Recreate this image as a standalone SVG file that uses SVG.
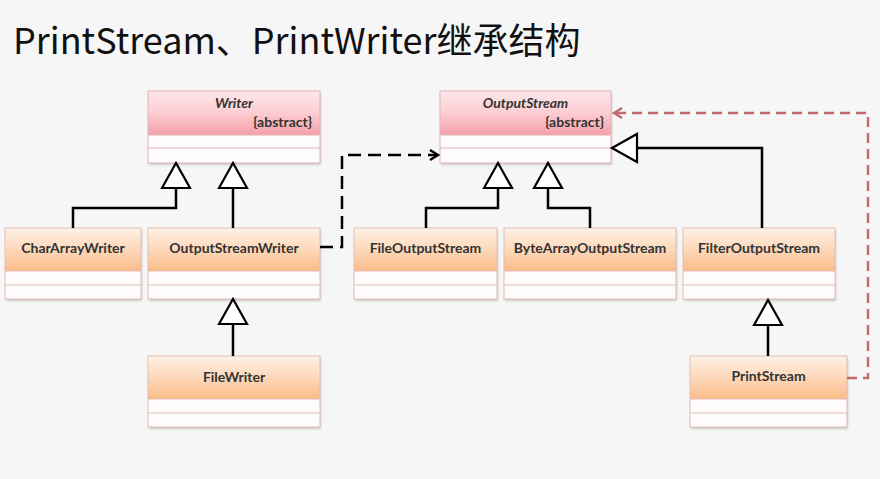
<svg xmlns="http://www.w3.org/2000/svg" width="880" height="479" viewBox="0 0 880 479">
<defs>
<linearGradient id="gPink" x1="0" y1="0" x2="0" y2="1">
<stop offset="0" stop-color="#fde8ea"/>
<stop offset="0.5" stop-color="#fbcdd2"/>
<stop offset="1" stop-color="#f4a0a9"/>
</linearGradient>
<linearGradient id="gOrange" x1="0" y1="0" x2="0" y2="1">
<stop offset="0" stop-color="#fef1e7"/>
<stop offset="0.5" stop-color="#fdd8ba"/>
<stop offset="1" stop-color="#fbbb88"/>
</linearGradient>
<filter id="sh" x="-5%" y="-5%" width="112%" height="120%">
<feDropShadow dx="1" dy="2" stdDeviation="1.2" flood-color="#000" flood-opacity="0.18"/>
</filter>
<marker id="tri" markerUnits="userSpaceOnUse" markerWidth="30" markerHeight="34" refX="26" refY="16" orient="auto" overflow="visible">
<path d="M1,2 L26,16 L1,30 Z" fill="#fff" stroke="#000" stroke-width="2.2" stroke-linejoin="miter"/>
</marker>
<marker id="chev" markerUnits="userSpaceOnUse" markerWidth="12" markerHeight="12" refX="9" refY="6" orient="auto" overflow="visible">
<path d="M1,1 L9,6 L1,11" fill="none" stroke="#000" stroke-width="2.4"/>
</marker>
<marker id="chevR" markerUnits="userSpaceOnUse" markerWidth="12" markerHeight="12" refX="9" refY="6" orient="auto" overflow="visible">
<path d="M1,1 L9,6 L1,11" fill="none" stroke="#c46a6c" stroke-width="2.4"/>
</marker>
</defs>
<style>
.bg{fill:#f6f6f6}
.title{font-family:"Noto Sans CJK SC","Noto Sans",sans-serif;font-size:36px;fill:#111}
.hp{fill:url(#gPink)}
.ho{fill:url(#gOrange)}
.row{fill:#fdfbfb}
.bd{fill:none;stroke:#e2bdb2;stroke-width:1}
.bdp{fill:none;stroke:#e2b3b8;stroke-width:1}
.box{filter:url(#sh)}
.lbl{font-family:Lato,"Open Sans",sans-serif;font-weight:bold;font-size:14px;fill:#333;text-anchor:middle}
.it{font-style:italic}
.abs{font-family:Lato,"Open Sans",sans-serif;font-weight:bold;font-size:14px;fill:#333;text-anchor:end}
.ln{fill:none;stroke:#000;stroke-width:2.5}
.dash{fill:none;stroke:#000;stroke-width:2.5;stroke-dasharray:13,7}
.rdash{fill:none;stroke:#c46a6c;stroke-width:2.4;stroke-dasharray:10,6}
</style>
<rect class="bg" x="0" y="0" width="880" height="479"/>
<text class="title" x="13" y="54">PrintStream、PrintWriter继承结构</text>

<g id="node-writer">
<rect class="box row" x="148" y="91" width="172" height="72"/>
<rect class="hp" x="148" y="91" width="172" height="44"/>
<rect class="bdp" x="148" y="91" width="172" height="72"/>
<path class="bdp" d="M148,135 H320 M148,148 H320"/>
<text class="lbl it" x="234" y="108">Writer</text>
<text class="abs" x="312" y="127">{abstract}</text>
</g>

<g id="node-outputstream">
<rect class="box row" x="440" y="91" width="171" height="72"/>
<rect class="hp" x="440" y="91" width="171" height="44"/>
<rect class="bdp" x="440" y="91" width="171" height="72"/>
<path class="bdp" d="M440,135 H611 M440,148 H611"/>
<text class="lbl it" x="525.5" y="108">OutputStream</text>
<text class="abs" x="604" y="127">{abstract}</text>
</g>

<g id="node-chararraywriter">
<rect class="box row" x="5" y="228" width="136" height="71"/>
<rect class="ho" x="5" y="228" width="136" height="43"/>
<rect class="bd" x="5" y="228" width="136" height="71"/>
<path class="bd" d="M5,271 H141 M5,285 H141"/>
<text class="lbl" x="73" y="253">CharArrayWriter</text>
</g>

<g id="node-outputstreamwriter">
<rect class="box row" x="148" y="228" width="172" height="71"/>
<rect class="ho" x="148" y="228" width="172" height="43"/>
<rect class="bd" x="148" y="228" width="172" height="71"/>
<path class="bd" d="M148,271 H320 M148,285 H320"/>
<text class="lbl" x="234" y="253">OutputStreamWriter</text>
</g>

<g id="node-fileoutputstream">
<rect class="box row" x="354" y="228" width="143" height="71"/>
<rect class="ho" x="354" y="228" width="143" height="43"/>
<rect class="bd" x="354" y="228" width="143" height="71"/>
<path class="bd" d="M354,271 H497 M354,285 H497"/>
<text class="lbl" x="425.5" y="253">FileOutputStream</text>
</g>

<g id="node-bytearrayoutputstream">
<rect class="box row" x="504" y="228" width="172" height="71"/>
<rect class="ho" x="504" y="228" width="172" height="43"/>
<rect class="bd" x="504" y="228" width="172" height="71"/>
<path class="bd" d="M504,271 H676 M504,285 H676"/>
<text class="lbl" x="590" y="253">ByteArrayOutputStream</text>
</g>

<g id="node-filteroutputstream">
<rect class="box row" x="683" y="228" width="152" height="71"/>
<rect class="ho" x="683" y="228" width="152" height="43"/>
<rect class="bd" x="683" y="228" width="152" height="71"/>
<path class="bd" d="M683,271 H835 M683,285 H835"/>
<text class="lbl" x="759" y="253">FilterOutputStream</text>
</g>

<g id="node-filewriter">
<rect class="box row" x="148" y="356" width="172" height="71"/>
<rect class="ho" x="148" y="356" width="172" height="43"/>
<rect class="bd" x="148" y="356" width="172" height="71"/>
<path class="bd" d="M148,399 H320 M148,413 H320"/>
<text class="lbl" x="234" y="382">FileWriter</text>
</g>

<g id="node-printstream">
<rect class="box row" x="690" y="356" width="157" height="71"/>
<rect class="ho" x="690" y="356" width="157" height="43"/>
<rect class="bd" x="690" y="356" width="157" height="71"/>
<path class="bd" d="M690,399 H847 M690,413 H847"/>
<text class="lbl" x="768.5" y="381">PrintStream</text>
</g>

<g id="connectors">
<path class="ln" d="M73,228 V208 H176 V163" marker-end="url(#tri)"/>
<path class="ln" d="M233,228 V163" marker-end="url(#tri)"/>
<path class="ln" d="M233,356 V299" marker-end="url(#tri)"/>
<path class="ln" d="M426,228 V208 H498 V163" marker-end="url(#tri)"/>
<path class="ln" d="M590,228 V208 H548 V163" marker-end="url(#tri)"/>
<path class="ln" d="M762,228 V148 H612" marker-end="url(#tri)"/>
<path class="ln" d="M768,356 V300" marker-end="url(#tri)"/>
<path class="dash" d="M320,247 H342 V155 H438" marker-end="url(#chev)"/>
<path class="rdash" d="M847,378 H868 V113 H614" marker-end="url(#chevR)"/>
</g>
</svg>
